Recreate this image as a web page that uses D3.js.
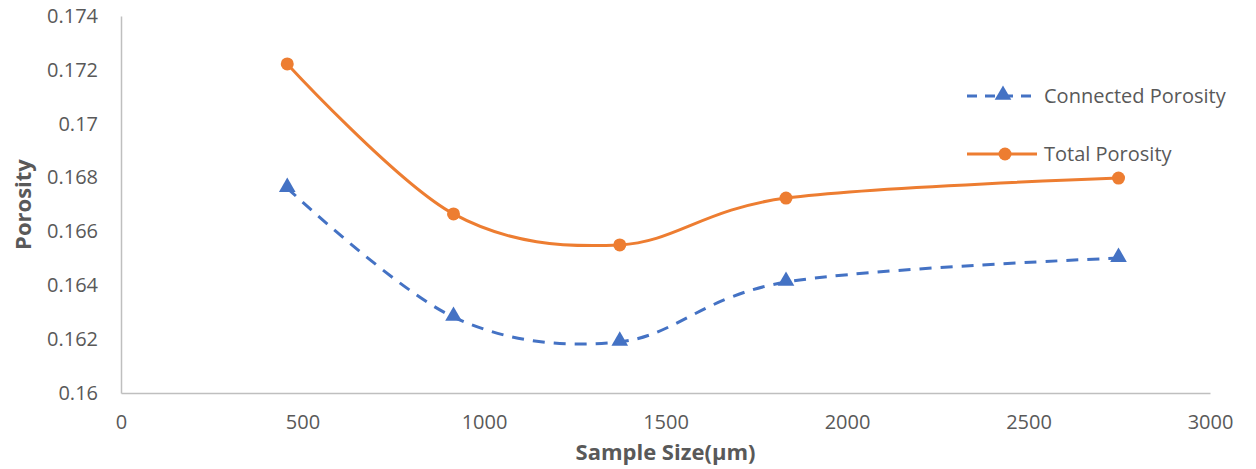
<!DOCTYPE html>
<html>
<head>
<meta charset="utf-8">
<script src="https://cdn.jsdelivr.net/npm/d3@7"></script>
<style>
  body { margin: 0; background: #fff; }
  text { font-family: "Open Sans", "Noto Sans", sans-serif; fill: #595959; }
</style>
</head>
<body>
<svg id="chart" width="1256" height="469"></svg>
<script>
// sample sizes (µm)
const sampleSize = [458, 916, 1374, 1832, 2748];
const connectedPorosity = [0.16761, 0.16282, 0.1619, 0.16412, 0.16501];
const totalPorosity = [0.17222, 0.16665, 0.1655, 0.16724, 0.16798];
const xTicks = [0, 500, 1000, 1500, 2000, 2500, 3000];
const yTicks = [0.16, 0.162, 0.164, 0.166, 0.168, 0.17, 0.172, 0.174];

const width = 1256, height = 469;
const margin = { top: 16, right: 46, bottom: 76, left: 121 };

const svg = d3.select('#chart');

const x = d3.scaleLinear().domain([0, 3000]).range([margin.left, width - margin.right]);
const y = d3.scaleLinear().domain([0.16, 0.174]).range([height - margin.bottom, margin.top]);

// axes
const xAxis = svg.append('g')
    .attr('transform', `translate(0,${y(0.16)})`)
    .call(d3.axisBottom(x).tickValues(xTicks).tickSize(0).tickPadding(22).tickFormat(d3.format('d')));
const yAxis = svg.append('g')
    .attr('transform', `translate(${x(0)},0)`)
    .call(d3.axisLeft(y).tickValues(yTicks).tickSize(0).tickPadding(23).tickFormat(d => String(+d.toFixed(3))));

[xAxis, yAxis].forEach(g => {
    g.select('.domain').attr('stroke', '#bfbfbf').attr('stroke-width', 1.5);
    g.selectAll('text').attr('font-size', '20px').attr('fill', '#595959')
        .style('font-family', '"Open Sans", sans-serif');
});

// axis titles
svg.append('text')
    .attr('x', (x(0) + x(3000)) / 2)
    .attr('y', 460)
    .attr('text-anchor', 'middle')
    .attr('font-size', '22px')
    .attr('font-weight', 'bold')
    .text('Sample Size(μm)');

svg.append('text')
    .attr('transform', `translate(31,${(y(0.16) + y(0.174)) / 2}) rotate(-90)`)
    .attr('text-anchor', 'middle')
    .attr('font-size', '22px')
    .attr('font-weight', 'bold')
    .text('Porosity');

const line = d3.line()
    .x(d => x(d[0]))
    .y(d => y(d[1]))
    .curve(d3.curveCardinal.tension(0));

const blue = '#4472c4', orange = '#ed7d31';

const connData = sampleSize.map((s, i) => [s, connectedPorosity[i]]);
const totData = sampleSize.map((s, i) => [s, totalPorosity[i]]);

const tri = d3.symbol().type(d3.symbolTriangle).size(120);

// connected porosity
svg.append('path')
    .datum(connData)
    .attr('d', line)
    .attr('fill', 'none')
    .attr('stroke', blue)
    .attr('stroke-width', 3)
    .attr('stroke-dasharray', '12,9');

svg.selectAll('path.tri')
    .data(connData)
    .join('path')
    .attr('class', 'tri')
    .attr('d', tri)
    .attr('transform', d => `translate(${x(d[0])},${y(d[1]) - 1})`)
    .attr('fill', blue);

// total porosity
svg.append('path')
    .datum(totData)
    .attr('d', line)
    .attr('fill', 'none')
    .attr('stroke', orange)
    .attr('stroke-width', 3);

svg.selectAll('circle.dot')
    .data(totData)
    .join('circle')
    .attr('class', 'dot')
    .attr('cx', d => x(d[0]))
    .attr('cy', d => y(d[1]))
    .attr('r', 6.5)
    .attr('fill', orange);

// legend
const legend = svg.append('g');
const lx = 967, lw = 70;

legend.append('line')
    .attr('x1', lx).attr('x2', lx + lw)
    .attr('y1', 96).attr('y2', 96)
    .attr('stroke', blue).attr('stroke-width', 3)
    .attr('stroke-dasharray', '10,8');
legend.append('path')
    .attr('d', tri)
    .attr('transform', `translate(${lx + lw / 2 + 1},95)`)
    .attr('fill', blue);
legend.append('text')
    .attr('x', 1044).attr('y', 103)
    .attr('font-size', '20px')
    .text('Connected Porosity');

legend.append('line')
    .attr('x1', lx).attr('x2', lx + lw)
    .attr('y1', 154).attr('y2', 154)
    .attr('stroke', orange).attr('stroke-width', 3);
legend.append('circle')
    .attr('cx', lx + lw / 2 + 3).attr('cy', 154).attr('r', 6.5)
    .attr('fill', orange);
legend.append('text')
    .attr('x', 1044).attr('y', 161)
    .attr('font-size', '20px')
    .text('Total Porosity');
</script>
</body>
</html>
